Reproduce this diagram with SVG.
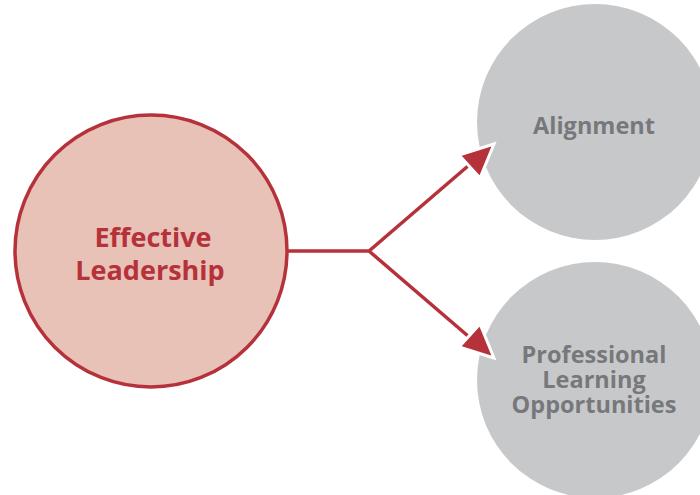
<svg xmlns="http://www.w3.org/2000/svg" width="700" height="495" viewBox="0 0 700 495">
<style>
.main{fill:#e8c1b7;stroke:#b5323b;stroke-width:3.5}
.sub{fill:#c7c8ca}
.mt{font-family:"Open Sans","Liberation Sans",sans-serif;font-weight:bold;font-size:27px;fill:#b5323b;text-anchor:middle}
.st{font-family:"Open Sans","Liberation Sans",sans-serif;font-weight:bold;font-size:23.5px;fill:#77787b;text-anchor:middle}
.conn{fill:none;stroke:#b5323b;stroke-width:3.5}
.head{fill:#b5323b;stroke:#ffffff;stroke-width:3;stroke-linejoin:miter}
</style>
<rect width="700" height="495" fill="#ffffff"/>
<g id="node-alignment">
<circle class="sub" cx="595" cy="122" r="118"/>
<text class="st" x="594" y="134">Alignment</text>
</g>
<g id="node-professional">
<circle class="sub" cx="595" cy="380" r="118"/>
<text class="st" x="594" y="363">Professional</text>
<text class="st" x="594" y="388">Learning</text>
<text class="st" x="594" y="413">Opportunities</text>
</g>
<g id="node-leadership">
<circle class="main" cx="151" cy="251" r="136"/>
<text class="mt" x="153" y="247">Effective</text>
<text class="mt" x="150" y="280">Leadership</text>
</g>
<g id="connectors">
<path class="conn" d="M288,251 H369 L468,166 M369,251 L468,336"/>
<polygon class="head" points="494,144 459,155 480,178"/>
<polygon class="head" points="494,358 480,324 459,347"/>
</g>
</svg>
